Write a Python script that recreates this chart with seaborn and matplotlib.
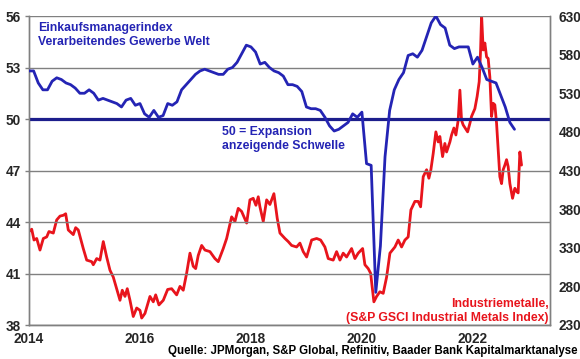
import numpy as np
import pandas as pd
import matplotlib
matplotlib.use("Agg")
import matplotlib.pyplot as plt
import seaborn as sns

# ---------------- data ----------------
# Global manufacturing PMI, monthly from Jan 2014
pmi_values = [
    52.8, 52.8, 52.1, 51.7, 51.7, 52.2, 52.4, 52.3, 52.1, 52.0, 51.8, 51.5,
    51.5, 51.7, 51.5, 51.1, 51.2, 51.1, 51.0, 50.9, 50.7, 51.1, 51.2, 50.8,
    50.9, 50.3, 50.1, 50.5, 50.1, 50.2, 50.9, 50.8, 51.0, 51.7, 52.0, 52.3,
    52.6, 52.8, 52.9, 52.8, 52.7, 52.6, 52.6, 52.9, 53.0, 53.3, 53.8, 54.3,
    54.2, 53.9, 53.2, 53.3, 53.0, 52.8, 52.7, 52.5, 52.0, 52.0, 51.9, 51.6,
    50.7, 50.6, 50.6, 50.5, 50.1, 49.6, 49.3, 49.4, 49.6, 49.8, 50.3, 50.1,
    50.4, 47.4, 47.3, 39.9, 42.6, 47.8, 50.5, 51.7, 52.3, 52.7, 53.7, 53.8,
    53.6, 54.0, 54.8, 55.6, 56.0, 55.5, 55.3, 54.3, 54.1, 54.2, 54.2, 54.2,
    53.2, 53.6, 53.0, 52.3, 52.2, 52.1, 51.4, 50.7, 49.8, 49.4,
]
pmi_start_year = 2014

# S&P GSCI Industrial Metals Index (decimal year, index level)
metals_year = [
    2014.000, 2014.049, 2014.090, 2014.139, 2014.198, 2014.258, 2014.319, 2014.360,
    2014.438, 2014.499, 2014.559, 2014.618, 2014.661, 2014.708, 2014.798, 2014.841,
    2014.888, 2014.978, 2015.040, 2015.130, 2015.159, 2015.220, 2015.279, 2015.339,
    2015.400, 2015.459, 2015.519, 2015.580, 2015.640, 2015.681, 2015.730, 2015.771,
    2015.820, 2015.879, 2015.941, 2016.000, 2016.031, 2016.090, 2016.180, 2016.240,
    2016.283, 2016.342, 2016.420, 2016.499, 2016.571, 2016.661, 2016.721, 2016.780,
    2016.841, 2016.901, 2016.960, 2017.004, 2017.050, 2017.112, 2017.171, 2017.261,
    2017.351, 2017.411, 2017.501, 2017.562, 2017.652, 2017.712, 2017.771, 2017.832,
    2017.923, 2017.982, 2018.041, 2018.090, 2018.132, 2018.162, 2018.222, 2018.283,
    2018.342, 2018.414, 2018.474, 2018.523, 2018.613, 2018.672, 2018.733, 2018.823,
    2018.883, 2018.942, 2019.004, 2019.094, 2019.184, 2019.256, 2019.333, 2019.393,
    2019.483, 2019.544, 2019.604, 2019.663, 2019.724, 2019.814, 2019.874, 2019.933,
    2020.013, 2020.054, 2020.114, 2020.157, 2020.216, 2020.265, 2020.324, 2020.384,
    2020.445, 2020.505, 2020.595, 2020.654, 2020.715, 2020.775, 2020.834, 2020.883,
    2020.955, 2021.014, 2021.058, 2021.105, 2021.166, 2021.207, 2021.243, 2021.285,
    2021.333, 2021.375, 2021.405, 2021.454, 2021.495, 2021.526, 2021.586, 2021.616,
    2021.658, 2021.694, 2021.735, 2021.766, 2021.796, 2021.825, 2021.905, 2021.946,
    2021.976, 2022.036, 2022.077, 2022.114, 2022.139, 2022.157, 2022.186, 2022.216,
    2022.247, 2022.276, 2022.306, 2022.337, 2022.366, 2022.396, 2022.427, 2022.456,
    2022.486, 2022.517, 2022.546, 2022.577, 2022.607, 2022.636, 2022.667, 2022.715,
    2022.757, 2022.787, 2022.816, 2022.847, 2022.877,
]
metals_values = [
    351, 354, 340, 342, 327, 342, 344, 351,
    349, 366, 371, 372, 374, 353, 347, 356,
    353, 329, 314, 312, 308, 316, 314, 338,
    318, 301, 292, 277, 262, 275, 267, 277,
    262, 241, 252, 249, 239, 245, 267, 260,
    269, 256, 262, 276, 277, 269, 280, 275,
    297, 323, 306, 303, 320, 333, 327, 325,
    316, 312, 329, 342, 370, 364, 381, 377,
    362, 392, 394, 385, 396, 383, 364, 392,
    386, 400, 368, 349, 342, 338, 333, 331,
    336, 325, 318, 340, 342, 340, 331, 316,
    314, 325, 314, 323, 318, 329, 316, 323,
    329, 308, 303, 297, 260, 267, 273, 271,
    292, 323, 331, 340, 331, 340, 344, 379,
    390, 390, 383, 422, 431, 420, 431, 452,
    480, 467, 474, 448, 465, 454, 467, 476,
    485, 476, 495, 534, 495, 489, 480, 491,
    500, 510, 526, 545, 586, 631, 586, 595,
    577, 575, 551, 500, 517, 515, 491, 456,
    422, 413, 431, 437, 444, 435, 413, 394,
    407, 403, 401, 454, 437,
]

threshold = 50
left_ticks = [38, 41, 44, 47, 50, 53, 56]
right_ticks = [230, 280, 330, 380, 430, 480, 530, 580, 630]
year_ticks = [2014, 2016, 2018, 2020, 2022]

pmi_df = pd.DataFrame({
    "year": pmi_start_year + np.arange(len(pmi_values)) / 12.0,
    "pmi": pmi_values,
})
metals_df = pd.DataFrame({"year": metals_year, "index": metals_values})

# ---------------- style ----------------
sns.set_theme(style="white")
plt.rcParams['font.family'] = ['Liberation Sans', 'DejaVu Sans']
plt.rcParams['font.weight'] = 'bold'

BLUE = "#2424b4"
NAVY = "#1c1e8c"
RED = "#e8141c"
GRID = "#808080"

fig = plt.figure(figsize=(5.8, 3.59), dpi=100)
ax = fig.add_axes([29 / 580, 1 - 325 / 359, (550 - 29) / 580, (325 - 16) / 359])
ax2 = ax.twinx()

# gridlines at left ticks
for t in left_ticks:
    if t != threshold:
        ax.axhline(t, color=GRID, lw=1.0, zorder=1)

sns.lineplot(data=metals_df, x="year", y="index", ax=ax2, color=RED, lw=2.0,
             zorder=3, estimator=None)
ax.axhline(threshold, color=NAVY, lw=2.3, zorder=2)
sns.lineplot(data=pmi_df, x="year", y="pmi", ax=ax, color=BLUE, lw=2.0,
             zorder=4, estimator=None)

# put ax (PMI) over ax2
ax.set_zorder(ax2.get_zorder() + 1)
ax.patch.set_visible(False)

ax.set_xlim(2014, 2023.39)
ax.set_ylim(38, 56)
ax2.set_ylim(230, 630)
ax.set_yticks(left_ticks)
ax2.set_yticks(right_ticks)
ax.set_xticks(year_ticks)
ax.set_xticklabels([str(y) for y in year_ticks])

for a in (ax, ax2):
    a.set_xlabel("")
    a.set_ylabel("")
    for s in a.spines.values():
        s.set_color(GRID)
        s.set_linewidth(1.0)
    a.spines['top'].set_visible(False)

ax.tick_params(axis='x', which='both', length=3, width=1, color=GRID,
               direction='out', pad=2, labelsize=9.8)
ax.tick_params(axis='y', length=3, width=1, color=GRID, direction='out',
               pad=3, labelsize=9.8)
ax2.tick_params(axis='y', length=0, pad=6, labelsize=9.8)
for lab in ax.get_xticklabels() + ax.get_yticklabels() + ax2.get_yticklabels():
    lab.set_fontweight('bold')

# annotations
fig.text(38 / 580, 1 - 35 / 359, "Einkaufsmanagerindex\nVerarbeitendes Gewerbe Welt",
         color=BLUE, fontsize=8.8, fontweight='bold', va='center', ha='left',
         linespacing=1.2)
fig.text(222 / 580, 1 - 139 / 359, "50 = Expansion\nanzeigende Schwelle",
         color=BLUE, fontsize=8.8, fontweight='bold', va='center', ha='left',
         linespacing=1.15)
fig.text(549 / 580, 1 - 311 / 359, "Industriemetalle,\n(S&P GSCI Industrial Metals Index)",
         color=RED, fontsize=8.8, fontweight='bold', va='center', ha='right',
         multialignment='right', linespacing=1.15)
fig.text(577 / 580, 1 - 351 / 359,
         "Quelle: JPMorgan, S&P Global, Refinitiv, Baader Bank Kapitalmarktanalyse",
         color="black", fontsize=8.3, fontweight='bold', va='center', ha='right')

fig.savefig("out.png", dpi=100)
